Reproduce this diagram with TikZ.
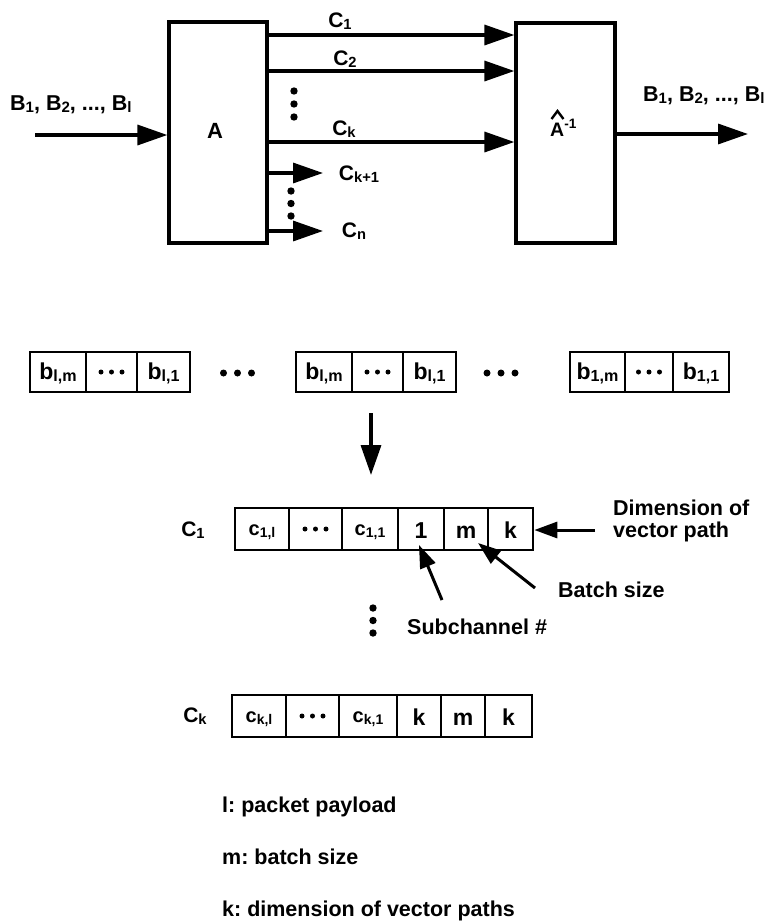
\documentclass[tikz,border=0pt]{standalone}
\usepackage{fontspec}
\setmainfont{Liberation Sans}
\usepackage{graphicx}
\usetikzlibrary{arrows.meta}
\newcommand\sbx[1]{\raisebox{-0.12em}{\scalebox{0.7}{#1}}}
\newcommand\celldots{\tikz{\foreach \i in {0,1,2} \fill (\i*10.5pt,0pt) circle (2.5pt);}}
\tikzset{
  fs/.style={font=\bfseries\fontsize{#1}{#1}\selectfont},
  blk/.style={draw, line width=3.2pt, inner sep=0pt},
  lab/.style={fs=#1, inner sep=0pt},
  cellbase/.style={draw, line width=2.6pt, inner sep=0pt},
  brow/.style={cellbase, minimum height=40pt, text height=14pt, text depth=0pt, fs=23},
  crow/.style={cellbase, minimum height=42pt, text height=18pt, text depth=0pt, fs=23},
  ccell/.style={cellbase, minimum height=42pt, text height=12pt, text depth=0pt, fs=20},
  dcell/.style={cellbase, minimum height=#1},
  big/.style={line width=3.4pt, -{Triangle[length=30pt,width=20pt]}},
  small/.style={line width=3pt, -{Triangle[length=23pt,width=16pt]}}
}
\begin{document}
\frenchspacing
\begin{tikzpicture}[x=1pt,y=-1pt]
\useasboundingbox (0,0) rectangle (772,922);
\fill[white] (0,0) rectangle (772,922);

% ---------- top: encoder / decoder ----------
\node[blk, minimum width=98pt, minimum height=221pt] (A) at (218,132.5) {};
\node[blk, minimum width=99pt, minimum height=220pt] (Ai) at (565.5,133) {};
\node[lab=22, anchor=base] (Alab) at (215,138) {A};
\node[lab=19.5, anchor=base west] (Ailab) at (550,136) {A\textsuperscript{-1}};
\draw[line width=2.4pt] (551.5,119) -- (557.5,111) -- (563.5,119);

\coordinate (inS) at (35,135);
\draw[big] (inS) -- (A.west |- inS);
\node[lab=21.5, anchor=base west] (inlab) at (10,110) {B\sbx{1}, B\sbx{2}, ..., B\sbx{l}};

\coordinate (outE) at (748,134);
\draw[big] (Ai.east |- outE) -- (outE);
\node[lab=21.5, anchor=base west] (outlab) at (643,101) {B\sbx{1}, B\sbx{2}, ..., B\sbx{l}};

\coordinate (yc1) at (0,35);
\coordinate (yc2) at (0,71);
\coordinate (yck) at (0,142);
\draw[big] (A.east |- yc1) -- (Ai.west |- yc1);
\draw[big] (A.east |- yc2) -- (Ai.west |- yc2);
\draw[big] (A.east |- yck) -- (Ai.west |- yck);
\node[lab=21, anchor=base] (lc1) at (340,27) {C\sbx{1}};
\node[lab=21, anchor=base] (lc2) at (345,65) {C\sbx{2}};
\node[lab=21, anchor=base] (lck) at (344,135) {C\sbx{k}};

\coordinate (ek1) at (323,173);
\coordinate (ekn) at (323,231);
\draw[big] (A.east |- ek1) -- (ek1);
\draw[big] (A.east |- ekn) -- (ekn);
\node[lab=21, anchor=base] (lck1) at (359,180) {C\sbx{k+1}};
\node[lab=21, anchor=base] (lcn) at (354,237) {C\sbx{n}};

\foreach \y in {91,104,117} \fill (294,\y) circle (3.7pt);
\foreach \y in {191,203.5,216} \fill (291,\y) circle (3.7pt);

% ---------- packets ----------
\node[brow, minimum width=56pt] (g1a) at (58,372) {b\sbx{l,m}};
\node[dcell=40pt, minimum width=51pt] (g1b) at (111.5,372) {\celldots};
\node[brow, minimum width=53pt] (g1c) at (163.5,372) {b\sbx{l,1}};

\node[brow, minimum width=56pt] (g2a) at (324,372) {b\sbx{l,m}};
\node[dcell=40pt, minimum width=51pt] (g2b) at (377.5,372) {\celldots};
\node[brow, minimum width=53pt] (g2c) at (429.5,372) {b\sbx{l,1}};

\node[brow, minimum width=55pt] (g3a) at (597.5,372) {b\sbx{1,m}};
\node[dcell=40pt, minimum width=48pt] (g3b) at (649,372) {\celldots};
\node[brow, minimum width=56pt] (g3c) at (701,372) {b\sbx{1,1}};

\foreach \x in {223.5,237.5,251.5} \fill (\x,373) circle (3.5pt);
\foreach \x in {487,501,515} \fill (\x,373) circle (3.5pt);

\coordinate (dtop) at (371,413);
\coordinate (dbot) at (371,475);
\draw[big] (dtop) -- (dbot);

% ---------- channel C1 ----------
\node[lab=21, anchor=base] (lr1) at (193,536) {C\sbx{1}};
\node[ccell, minimum width=54pt] (r1a) at (262,529) {c\sbx{1,l}};
\node[dcell=42pt, minimum width=53pt] (r1b) at (315.5,529) {\celldots};
\node[ccell, minimum width=56pt] (r1c) at (370,529) {c\sbx{1,1}};
\node[crow, minimum width=46pt] (r1d) at (421,529) {1};
\node[crow, minimum width=44pt] (r1e) at (466,529) {m};
\node[crow, minimum width=45pt] (r1f) at (510.5,529) {k};

\coordinate (dimS) at (595,530);
\draw[small] (dimS) -- (r1f.east |- dimS);
\node[font=\bfseries\fontsize{21.5}{22}\selectfont, inner sep=0pt, align=left, anchor=north west] (dimlab) at (613,500) {Dimension of\\vector path};

\coordinate (batS) at (535,588);
\coordinate (batT) at (478,543);
\draw[small] (batS) -- (batT);
\node[lab=21.5, anchor=base west] (batlab) at (558,597) {Batch size};

\coordinate (subS) at (442,600);
\coordinate (subT) at (419,545);
\draw[small] (subS) -- (subT);
\node[lab=21.5, anchor=base west] (sublab) at (407,634.5) {Subchannel \#};

\foreach \y in {608,620.5,633} \fill (373,\y) circle (3.7pt);

% ---------- channel Ck ----------
\node[lab=21, anchor=base] (lrk) at (195,722) {C\sbx{k}};
\node[ccell, minimum width=54pt] (rka) at (259,716) {c\sbx{k,l}};
\node[dcell=42pt, minimum width=53pt] (rkb) at (312.5,716) {\celldots};
\node[ccell, minimum width=58pt] (rkc) at (368,716) {c\sbx{k,1}};
\node[crow, minimum width=44pt] (rkd) at (419,716) {k};
\node[crow, minimum width=44pt] (rke) at (463,716) {m};
\node[crow, minimum width=47pt] (rkf) at (508.5,716) {k};

% ---------- legend ----------
\node[lab=21.5, anchor=base west] (leg1) at (222,812) {l: packet payload};
\node[lab=21.5, anchor=base west] (leg2) at (222,864) {m: batch size};
\node[lab=21.5, anchor=base west] (leg3) at (222,916) {k: dimension of vector paths};
\end{tikzpicture}
\end{document}
